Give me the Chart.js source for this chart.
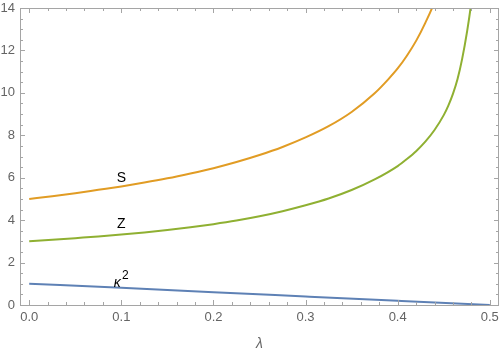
<!DOCTYPE html>
<html>
<head>
<meta charset="utf-8">
<script src="https://cdn.jsdelivr.net/npm/chart.js@4"></script>
<style>
  html, body { margin: 0; padding: 0; background: #fff; }
  #wrap { width: 500px; height: 354px; }
</style>
</head>
<body>
<div id="wrap"><canvas id="chart" width="500" height="354"></canvas></div>
<script>
// values
const sLambda = [0, 0.025, 0.05, 0.075, 0.1, 0.125, 0.15, 0.175, 0.2, 0.225, 0.25, 0.275,
  0.3, 0.325, 0.35, 0.375, 0.39, 0.4, 0.41, 0.42, 0.43, 0.44, 0.45];
const sValues = [5.0, 5.13, 5.27, 5.43, 5.59, 5.77, 5.97, 6.2, 6.45, 6.74, 7.07, 7.45,
  7.9, 8.43, 9.1, 9.98, 10.65, 11.15, 11.75, 12.45, 13.3, 14.3, 15.8];

const zLambda = [0, 0.025, 0.05, 0.075, 0.1, 0.125, 0.15, 0.175, 0.2, 0.225, 0.25, 0.275,
  0.3, 0.325, 0.35, 0.375, 0.4, 0.41, 0.42, 0.43, 0.44, 0.45, 0.455, 0.46, 0.465, 0.47,
  0.475, 0.48, 0.485];
const zValues = [3.0, 3.07, 3.15, 3.23, 3.32, 3.42, 3.53, 3.66, 3.81, 3.98, 4.18, 4.42,
  4.7, 5.02, 5.42, 5.92, 6.55, 6.88, 7.25, 7.7, 8.25, 8.95, 9.4, 9.95, 10.65, 11.6,
  12.8, 14.3, 16.5];

const kLambda = [0, 0.1, 0.2, 0.3, 0.4, 0.5];
const kValues = [1.0, 0.81, 0.6, 0.4, 0.2, 0.0];

const xTickValues = [0, 0.1, 0.2, 0.3, 0.4, 0.5];
const yTickValues = [0, 2, 4, 6, 8, 10, 12, 14];

const COLORS = {
  blue: 'rgb(94, 129, 181)',
  orange: 'rgb(225, 156, 36)',
  green: 'rgb(143, 176, 50)',
  frame: 'rgb(165, 165, 165)',
  tickText: 'rgb(100, 100, 100)',
};

const FONT = '"Liberation Sans", Arial, sans-serif';

function toPoints(xs, ys) {
  return xs.map((x, i) => ({ x: x, y: ys[i] }));
}

function lineDataset(label, xs, ys, color) {
  return {
    label: label,
    data: toPoints(xs, ys),
    borderColor: color,
    backgroundColor: color,
    borderWidth: 2,
    pointRadius: 0,
    fill: false,
    cubicInterpolationMode: 'monotone',
  };
}

// frame with inward ticks on all four sides
const framePlugin = {
  id: 'frame',
  afterDraw(chart) {
    const { ctx, chartArea: a, scales } = chart;
    ctx.save();
    ctx.strokeStyle = COLORS.frame;
    ctx.lineWidth = 1;
    ctx.strokeRect(a.left + 0.5, a.top + 0.5, a.right - a.left - 1, a.bottom - a.top);
    ctx.beginPath();
    for (let i = 0; i <= 25; i++) {
      const px = Math.round(scales.x.getPixelForValue(i * 0.02)) + 0.5;
      const len = i % 5 === 0 ? 5 : 3;
      ctx.moveTo(px, a.bottom);
      ctx.lineTo(px, a.bottom - len);
      ctx.moveTo(px, a.top);
      ctx.lineTo(px, a.top + len);
    }
    for (let i = 0; i <= 28; i++) {
      const py = Math.round(scales.y.getPixelForValue(i * 0.5)) + 0.5;
      const len = i % 4 === 0 ? 5 : 3;
      ctx.moveTo(a.left, py);
      ctx.lineTo(a.left + len, py);
      ctx.moveTo(a.right, py);
      ctx.lineTo(a.right - len, py);
    }
    ctx.stroke();
    ctx.restore();
  },
};

// curve labels S, Z, kappa^2
const curveLabels = {
  id: 'curveLabels',
  afterDatasetsDraw(chart) {
    const { ctx, scales } = chart;
    ctx.save();
    ctx.fillStyle = '#000';
    ctx.textAlign = 'center';
    ctx.textBaseline = 'middle';
    ctx.font = '14px ' + FONT;
    const x = scales.x.getPixelForValue(0.1);
    ctx.fillText('S', x, scales.y.getPixelForValue(6.0));
    ctx.fillText('Z', x, scales.y.getPixelForValue(3.82));
    const ky = scales.y.getPixelForValue(1.04);
    ctx.font = 'italic 14px ' + FONT;
    ctx.fillText('\u03ba', x - 4, ky);
    ctx.font = '12px ' + FONT;
    ctx.fillText('2', x + 4, ky - 7);
    ctx.restore();
  },
};

function createChart() {
  const ctx = document.getElementById('chart').getContext('2d');
  new Chart(ctx, {
    type: 'line',
    data: {
      datasets: [
        lineDataset('\u03ba\u00b2', kLambda, kValues, COLORS.blue),
        lineDataset('S', sLambda, sValues, COLORS.orange),
        lineDataset('Z', zLambda, zValues, COLORS.green),
      ],
    },
    options: {
      responsive: false,
      animation: false,
      devicePixelRatio: 1,
      layout: { padding: { left: 1, right: 1, top: 8, bottom: 0 } },
      plugins: {
        legend: { display: false },
        tooltip: { enabled: false },
      },
      scales: {
        x: {
          type: 'linear',
          min: -0.01,
          max: 0.51,
          grid: { display: false, drawTicks: false },
          border: { display: false },
          afterBuildTicks: (scale) => {
            scale.ticks = xTickValues.map((v) => ({ value: v }));
          },
          afterFit: (scale) => {
            scale.height = 49;
            scale.paddingLeft = 0;
            scale.paddingRight = 0;
          },
          ticks: {
            color: COLORS.tickText,
            font: { family: FONT, size: 13 },
            padding: 5,
            maxRotation: 0,
            callback: (v) => Number(v).toFixed(1),
          },
          title: {
            display: true,
            text: '\u03bb',
            color: COLORS.tickText,
            font: { family: FONT, size: 14, style: 'italic' },
            padding: { top: 4, bottom: 1 },
          },
        },
        y: {
          type: 'linear',
          min: 0,
          max: 14,
          grid: { display: false, drawTicks: false },
          border: { display: false },
          afterBuildTicks: (scale) => {
            scale.ticks = yTickValues.map((v) => ({ value: v }));
          },
          afterFit: (scale) => {
            scale.width = 19;
            scale.paddingTop = 0;
            scale.paddingBottom = 0;
          },
          ticks: {
            color: COLORS.tickText,
            font: { family: FONT, size: 13 },
            padding: 5,
          },
        },
      },
    },
    plugins: [framePlugin, curveLabels],
  });
}

createChart();
</script>
</body>
</html>
